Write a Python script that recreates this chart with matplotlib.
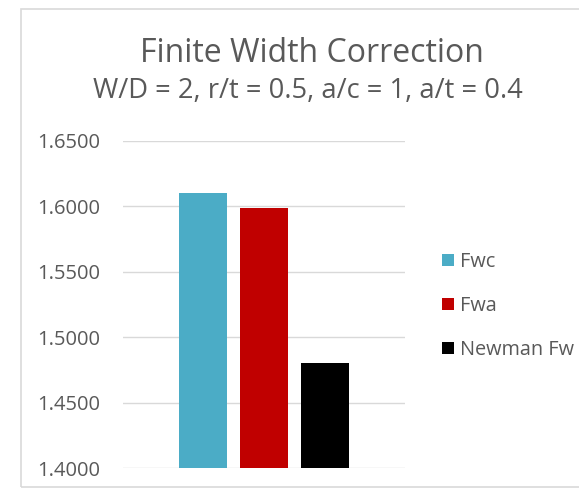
import matplotlib
matplotlib.use("Agg")
import matplotlib.pyplot as plt
from matplotlib.patches import Rectangle

# Data
series_names = ["Fwc", "Fwa", "Newman Fw"]
series_values = [1.6105, 1.5987, 1.4800]
series_colors = ["#4BACC6", "#C00000", "#000000"]
y_ticks = [1.40, 1.45, 1.50, 1.55, 1.60, 1.65]
title = "Finite Width Correction"
subtitle = "W/D = 2, r/t = 0.5, a/c = 1, a/t = 0.4"

W, H = 579, 497
plt.rcParams["font.family"] = ["Open Sans", "DejaVu Sans"]

fig = plt.figure(figsize=(W / 100, H / 100), dpi=100)


def fx(px):
    return px / W


def fy(py):
    return 1 - py / H


# chart frame
fig.patches.append(Rectangle((fx(21), fy(487)), fx(700) - fx(21), fy(9) - fy(487),
                             transform=fig.transFigure, fill=False,
                             edgecolor="#D9D9D9", linewidth=1.2))

ax = fig.add_axes([fx(123), fy(468), fx(405) - fx(123), fy(141) - fy(468)])
positions = [-1, 0, 1]
for pos, val, col, name in zip(positions, series_values, series_colors, series_names):
    ax.bar(pos, val - y_ticks[0], bottom=y_ticks[0], width=0.79, color=col,
           label=name, zorder=3)

ax.set_xlim(-2.31, 2.31)
ax.set_ylim(y_ticks[0], y_ticks[-1])
ax.set_yticks(y_ticks)
ax.set_yticklabels([f"{t:.4f}" for t in y_ticks])
ax.set_xticks([])
ax.grid(axis="y", color="#D9D9D9", linewidth=1.0, zorder=0)
for s in ax.spines.values():
    s.set_visible(False)
ax.tick_params(axis="y", length=0, pad=16.5, labelsize=14.5, labelcolor="#595959")

fig.text(fx(312), fy(62), title, ha="center", va="baseline",
         fontsize=23, color="#595959")
fig.text(fx(308), fy(98), subtitle, ha="center", va="baseline",
         fontsize=19.7, color="#595959")

leg = fig.legend(loc="center left", bbox_to_anchor=(fx(442), fy(306)),
                 frameon=False, fontsize=14.3, labelcolor="#595959",
                 handlelength=0.6, handleheight=0.6, handletextpad=0.3,
                 labelspacing=1.2, borderpad=0, borderaxespad=0)

fig.savefig("out.png", dpi=100)
